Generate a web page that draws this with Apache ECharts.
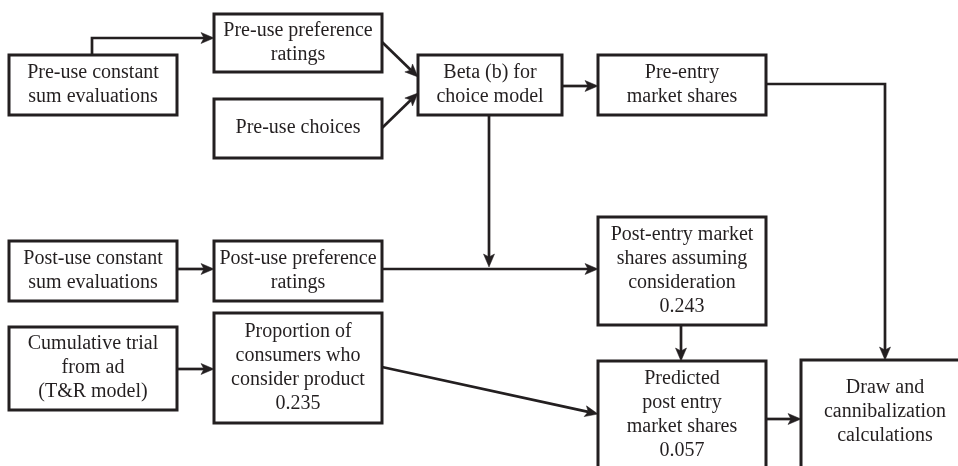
<!DOCTYPE html>
<html><head><meta charset="utf-8">
<script src="https://cdn.jsdelivr.net/npm/echarts@6/dist/echarts.min.js"></script>
<style>html,body{margin:0;padding:0;background:#fff}#c{width:958px;height:466px}</style>
</head><body><div id="c"></div>
<script>
// Boxes (diagram coordinates, y grows downward)
const boxLabels = [
  'Pre-use constant\nsum evaluations',
  'Pre-use preference\nratings',
  'Pre-use choices',
  'Beta (b) for\nchoice model',
  'Pre-entry\nmarket shares',
  'Post-use constant\nsum evaluations',
  'Post-use preference\nratings',
  'Post-entry market\nshares assuming\nconsideration\n0.243',
  'Cumulative trial\nfrom ad\n(T&R model)',
  'Proportion of\nconsumers who\nconsider product\n0.235',
  'Predicted\npost entry\nmarket shares\n0.057',
  'Draw and\ncannibalization\ncalculations'
];
const boxLeft   = [9, 214, 214, 418, 598, 9, 214, 598, 9, 214, 598, 801];
const boxTop    = [55, 14, 99, 55, 55, 241, 241, 217, 327, 313, 361, 360];
const boxRight  = [177, 382, 382, 562, 766, 177, 382, 766, 177, 382, 766, 969];
const boxBottom = [115, 72, 158, 115, 115, 301, 301, 325, 410, 423, 469, 480];
const boxTextMid = [85, 43, 128, 85, 85, 271, 271, 271, 368, 368, 415, 412];

// Connectors (waypoints; arrowhead at last point)
const edgePoints = [
  [[92, 55], [92, 38], [214, 38]],
  [[382, 42], [418, 77]],
  [[382, 128], [418, 93]],
  [[562, 86], [598, 86]],
  [[766, 84], [885, 84], [885, 360]],
  [[489, 115], [489, 267]],
  [[382, 269], [598, 269]],
  [[177, 269], [214, 269]],
  [[177, 369], [214, 369]],
  [[382, 367], [598, 414]],
  [[681, 325], [681, 361]],
  [[766, 419], [801, 419]]
];

const INK = '#231f20';
const chart = echarts.init(document.getElementById('c'));
chart.setOption({
  animation: false,
  backgroundColor: '#fff',
  grid: { left: 0, right: 0, top: 0, bottom: 0, containLabel: false },
  xAxis: { type: 'value', min: 0, max: 958, show: false },
  yAxis: { type: 'value', min: 0, max: 466, inverse: true, show: false },
  series: [
    {
      type: 'custom',
      coordinateSystem: 'cartesian2d',
      clip: true,
      data: boxLabels.map((_, i) => [boxLeft[i], boxTop[i]]),
      renderItem: function (params, api) {
        const i = params.dataIndex;
        const p0 = api.coord([boxLeft[i], boxTop[i]]);
        const p1 = api.coord([boxRight[i], boxBottom[i]]);
        const tm = api.coord([(boxLeft[i] + boxRight[i]) / 2, boxTextMid[i]]);
        return {
          type: 'group',
          children: [
            { type: 'rect', shape: { x: p0[0], y: p0[1], width: p1[0] - p0[0], height: p1[1] - p0[1] },
              style: { fill: '#fff', stroke: INK, lineWidth: 3 } },
            { type: 'text', style: { text: boxLabels[i], x: tm[0], y: tm[1], align: 'center', verticalAlign: 'middle',
              fontFamily: 'Liberation Serif', fontSize: 20, lineHeight: 24, fill: INK } }
          ]
        };
      }
    },
    {
      type: 'custom',
      coordinateSystem: 'cartesian2d',
      clip: true,
      data: edgePoints.map(e => e[0]),
      renderItem: function (params, api) {
        const pts = edgePoints[params.dataIndex].map(p => api.coord(p));
        const a = pts[pts.length - 1], b = pts[pts.length - 2];
        const dx = a[0] - b[0], dy = a[1] - b[1];
        const L = Math.hypot(dx, dy), ux = dx / L, uy = dy / L;
        const len = 13, half = 5.5, notch = 3;
        const nx = -uy, ny = ux;
        const bx = a[0] - ux * len, by = a[1] - uy * len;
        const mx = a[0] - ux * (len - notch), my = a[1] - uy * (len - notch);
        const linePts = pts.slice(0, -1).concat([[mx, my]]);
        return {
          type: 'group',
          children: [
            { type: 'polyline', shape: { points: linePts }, style: { stroke: INK, lineWidth: 2.7, fill: null } },
            { type: 'polygon', shape: { points: [a, [bx + nx * half, by + ny * half], [mx, my], [bx - nx * half, by - ny * half]] },
              style: { fill: INK, stroke: INK, lineWidth: 0.5 } }
          ]
        };
      }
    }
  ]
});
</script>
</body></html>
